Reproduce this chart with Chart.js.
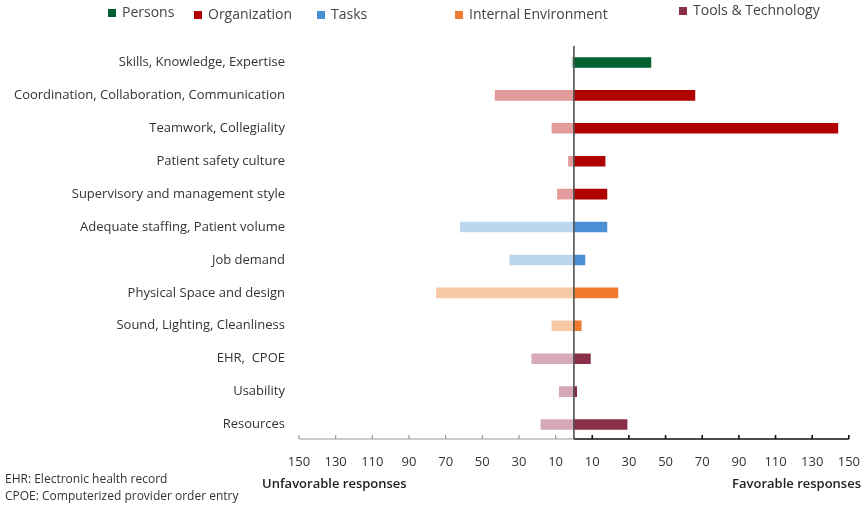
<!DOCTYPE html>
<html lang="en">
<head>
    <meta charset="UTF-8" />
    <title>Favorable vs unfavorable responses</title>
    <script src="https://cdn.jsdelivr.net/npm/chart.js"></script>
    <style>
        body {
            margin: 0;
            background: #fff;
            font-family: 'Open Sans', sans-serif;
            color: #333;
        }

        .wrap {
            position: relative;
            width: 865px;
            height: 505px;
        }

        .legend-item {
            position: absolute;
            font-size: 14px;
            color: #444;
            white-space: nowrap;
        }

        .legend-item span {
            display: inline-block;
            width: 8px;
            height: 8px;
            margin-right: 6px;
        }

        .side-title {
            position: absolute;
            top: 474px;
            font-size: 13px;
            font-weight: 600;
            color: #222;
        }

        .note {
            position: absolute;
            left: 5px;
            font-size: 12px;
            color: #333;
        }
    </style>
</head>
<body>
<div class="wrap">
    <canvas id="chart" width="865" height="505"></canvas>
    <div id="legend"></div>
    <div class="side-title" style="left:262px">Unfavorable responses</div>
    <div class="side-title" style="right:4px">Favorable responses</div>
    <div class="note" style="top:470px">EHR: Electronic health record</div>
    <div class="note" style="top:487px">CPOE: Computerized provider order entry</div>
</div>

<script>
    // categories top to bottom
    const categories = [
        'Skills, Knowledge, Expertise',
        'Coordination, Collaboration, Communication',
        'Teamwork, Collegiality',
        'Patient safety culture',
        'Supervisory and management style',
        'Adequate staffing, Patient volume',
        'Job demand',
        'Physical Space and design',
        'Sound, Lighting, Cleanliness',
        'EHR,  CPOE',
        'Usability',
        'Resources'
    ];

    // which group each category belongs to
    const categoryGroup = [0, 1, 1, 1, 1, 2, 2, 3, 3, 4, 4, 4];

    const unfavorable = [1, 43, 12, 3, 9, 62, 35, 75, 12, 23, 8, 18];
    const favorable = [42, 66, 144, 17, 18, 18, 6, 24, 4, 9, 1.5, 29];

    const groups = ['Persons', 'Organization', 'Tasks', 'Internal Environment', 'Tools & Technology'];
    const darkColors = ['#006030', '#b00000', '#4a8ed4', '#f07b30', '#8a2f48'];
    const lightColors = ['#a3cdb6', '#e39b9c', '#bcd6f0', '#f8c9a6', '#d5aab6'];

    const xTicks = [-150, -130, -110, -90, -70, -50, -30, -10, 10, 30, 50, 70, 90, 110, 130, 150];

    // legend (positions follow the original figure)
    const legendPos = [[108, 2], [194, 4], [317, 4], [455, 4], [679, 0]];
    const legendEl = document.getElementById('legend');
    groups.forEach((g, i) => {
        const d = document.createElement('div');
        d.className = 'legend-item';
        d.style.left = legendPos[i][0] + 'px';
        d.style.top = legendPos[i][1] + 'px';
        d.innerHTML = '<span style="background:' + darkColors[i] + '"></span>' + g.replace('&', '&amp;');
        legendEl.appendChild(d);
    });

    // axis line, upward tick marks and the zero line
    const axisPlugin = {
        id: 'axisPlugin',
        afterDatasetsDraw(chart) {
            const ctx = chart.ctx;
            const x = chart.scales.x;
            const area = chart.chartArea;
            const zero = x.getPixelForValue(0);
            const y0 = area.bottom - 2;
            ctx.save();
            ctx.lineWidth = 1.2;
            // left half (grey)
            ctx.strokeStyle = '#999';
            ctx.beginPath();
            ctx.moveTo(x.getPixelForValue(-150), y0);
            ctx.lineTo(zero, y0);
            xTicks.filter(v => v < 0).forEach(v => {
                const px = x.getPixelForValue(v);
                ctx.moveTo(px, y0);
                ctx.lineTo(px, y0 - 4);
            });
            ctx.stroke();
            // right half (black)
            ctx.strokeStyle = '#111';
            ctx.lineWidth = 1.6;
            ctx.beginPath();
            ctx.moveTo(zero, y0);
            ctx.lineTo(x.getPixelForValue(150), y0);
            xTicks.filter(v => v > 0).forEach(v => {
                const px = x.getPixelForValue(v);
                ctx.moveTo(px, y0);
                ctx.lineTo(px, y0 - 4);
            });
            ctx.stroke();
            // zero line
            ctx.strokeStyle = '#444';
            ctx.lineWidth = 1.5;
            ctx.beginPath();
            ctx.moveTo(zero, area.top);
            ctx.lineTo(zero, y0);
            ctx.stroke();
            ctx.restore();
        }
    };

    const ctx = document.getElementById('chart').getContext('2d');
    const chart = new Chart(ctx, {
        type: 'bar',
        data: {
            labels: categories,
            datasets: [
                {
                    label: 'Unfavorable',
                    data: unfavorable.map(v => -v),
                    backgroundColor: categoryGroup.map(g => lightColors[g]),
                    barThickness: 10,
                    grouped: false
                },
                {
                    label: 'Favorable',
                    data: favorable,
                    backgroundColor: categoryGroup.map(g => darkColors[g]),
                    barThickness: 10,
                    grouped: false
                }
            ]
        },
        options: {
            indexAxis: 'y',
            responsive: false,
            animation: false,
            layout: {
                padding: { top: 46, right: 8, left: 0, bottom: 0 }
            },
            plugins: {
                legend: { display: false },
                tooltip: { enabled: false }
            },
            scales: {
                x: {
                    min: -150,
                    max: 150,
                    afterBuildTicks: s => { s.ticks = xTicks.map(v => ({ value: v })); },
                    afterFit: s => { s.height = 64; },
                    grid: { display: false },
                    border: { display: false },
                    ticks: {
                        padding: 5,
                        maxRotation: 0,
                        autoSkip: false,
                        color: '#333',
                        font: { family: 'Open Sans', size: 13 },
                        callback: v => Math.abs(v)
                    }
                },
                y: {
                    afterFit: s => { s.width = 299; },
                    grid: { display: false },
                    border: { display: false },
                    ticks: {
                        padding: 6,
                        color: '#333',
                        font: { family: 'Open Sans', size: 13 }
                    }
                }
            }
        },
        plugins: [axisPlugin]
    });
</script>
</body>
</html>
